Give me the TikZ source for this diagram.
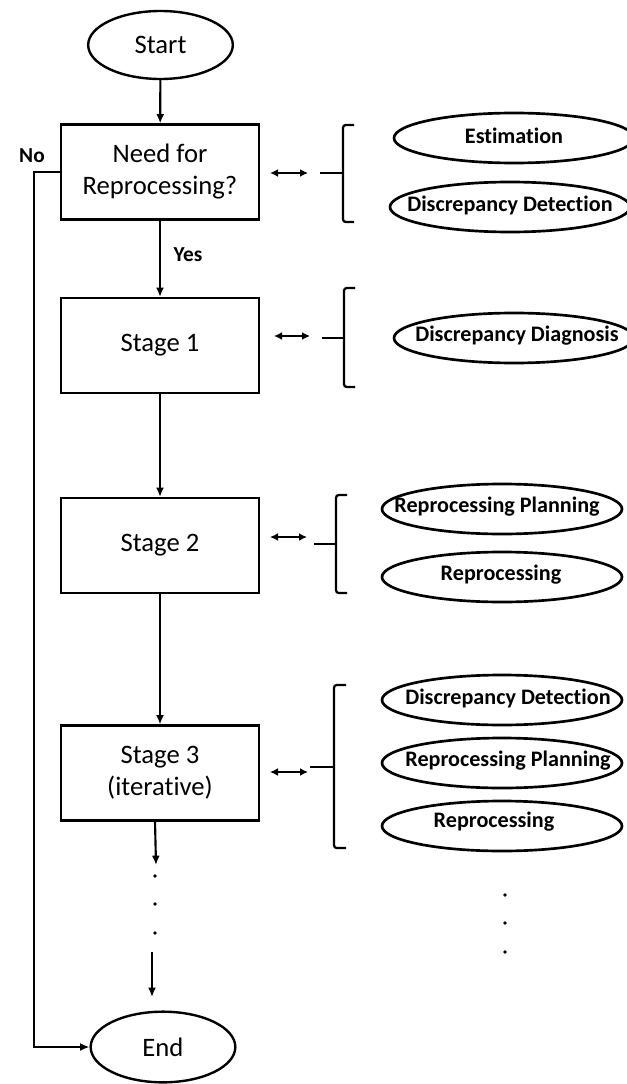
\documentclass[tikz,border=0pt]{standalone}
\usepackage{fontspec}
\setmainfont{Carlito}[Ligatures=NoCommon]
\usetikzlibrary{arrows.meta,shapes.geometric}

\begin{document}
\begin{tikzpicture}[x=0.75pt,y=-0.75pt,
  box/.style={draw, line width=1.9pt, minimum width=148.5pt, minimum height=71pt,
    inner sep=0pt, align=center, font=\fontsize{20}{24}\selectfont},
  term/.style={draw, ellipse, line width=1.8pt, minimum width=108.5pt, minimum height=51pt,
    inner sep=0pt, font=\fontsize{20}{24}\selectfont},
  task/.style={draw, ellipse, line width=2pt, minimum width=180pt, minimum height=37.5pt, inner sep=0pt},
  tasktext/.style={inner sep=0pt, font=\bfseries\fontsize{16.6}{19}\selectfont},
  tag/.style={inner sep=0pt, font=\bfseries\fontsize{16}{19}\selectfont},
  flow/.style={line width=1.6pt, -{Latex[length=7pt,width=6pt]}},
  link/.style={line width=1.6pt, {Latex[length=6pt,width=6pt]}-{Latex[length=6pt,width=6pt]}},
  brk/.style={line width=1.7pt, rounded corners=2pt},
  stub/.style={line width=1.7pt}
]
\useasboundingbox (0,0) rectangle (627,1084);

% main flow
\node[term] (start) at (160.5,45) {Start};
\node[box] (need) at (160,172) {Need for\\Reprocessing?};
\node[box] (st1) at (160,345.5) {Stage 1};
\node[box] (st2) at (160,545.5) {Stage 2};
\node[box] (st3) at (160,773) {Stage 3\\(iterative)};
\node[term, minimum height=53pt] (end) at (163,1047) {End};

\draw[flow] (start) -- (need);
\draw[flow] (need) -- (st1);
\draw[flow] (st1) -- (st2);
\draw[flow] (st2) -- (st3);

\coordinate (d0) at (155,821);
\coordinate (d1) at (156,865);
\coordinate (d2) at (152,952);
\coordinate (d3) at (152,997);
\draw[flow] (d0) -- (d1);
\draw[flow] (d2) -- (d3);
\foreach \yy in {876,904,933} \fill (155,\yy) circle (1.4pt);

\draw[flow] (need.west) -- ++(-26,0) |- (end.west);
\node[tag] (no) at (32,156) {No};
\node[tag] (yes) at (188,255) {Yes};

% tasks, first group
\node[task] (e11) at (514,138) {};
\node[tasktext] at (514,136) {Estimation};
\node[task] (e12) at (510,207) {};
\node[tasktext] at (510,205) {Discrepancy Detection};
\coordinate (a1l) at (270,173); \coordinate (a1r) at (308,173);
\draw[link] (a1l) -- (a1r);
\coordinate (b1s) at (320,173); \coordinate (b1m) at (343,173);
\coordinate (b1t) at (354,125); \coordinate (b1b) at (354,222);
\draw[stub] (b1s) -- (b1m);
\draw[brk] (b1t) -- (b1t -| b1m) -- (b1b -| b1m) -- (b1b);

% second group
\node[task] (e21) at (514,338) {};
\node[tasktext] at (517,336) {Discrepancy Diagnosis};
\coordinate (a2l) at (274,336); \coordinate (a2r) at (310,336);
\draw[link] (a2l) -- (a2r);
\coordinate (b2s) at (322,338); \coordinate (b2m) at (344,338);
\coordinate (b2t) at (355,288); \coordinate (b2b) at (355,387);
\draw[stub] (b2s) -- (b2m);
\draw[brk] (b2t) -- (b2t -| b2m) -- (b2b -| b2m) -- (b2b);

% third group
\node[task] (e31) at (502,509) {};
\node[tasktext] at (497,507) {Reprocessing Planning};
\node[task] (e32) at (502,577) {};
\node[tasktext] at (501,575) {Reprocessing};
\coordinate (a3l) at (270,537); \coordinate (a3r) at (307,537);
\draw[link] (a3l) -- (a3r);
\coordinate (b3s) at (314,544); \coordinate (b3m) at (336,544);
\coordinate (b3t) at (347,495); \coordinate (b3b) at (347,593);
\draw[stub] (b3s) -- (b3m);
\draw[brk] (b3t) -- (b3t -| b3m) -- (b3b -| b3m) -- (b3b);

% fourth group
\node[task] (e41) at (502,700) {};
\node[tasktext] at (508,698) {Discrepancy Detection};
\node[task] (e42) at (502,763) {};
\node[tasktext] at (508,761) {Reprocessing Planning};
\node[task] (e43) at (502,826) {};
\node[tasktext] at (494,822) {Reprocessing};
\coordinate (a4l) at (270,772); \coordinate (a4r) at (308,772);
\draw[link] (a4l) -- (a4r);
\coordinate (b4s) at (310,767); \coordinate (b4m) at (334,767);
\coordinate (b4t) at (346,685); \coordinate (b4b) at (346,848);
\draw[stub] (b4s) -- (b4m);
\draw[brk] (b4t) -- (b4t -| b4m) -- (b4b -| b4m) -- (b4b);

\foreach \yy in {895,923,952} \fill (505,\yy) circle (1.4pt);
\end{tikzpicture}
\end{document}
